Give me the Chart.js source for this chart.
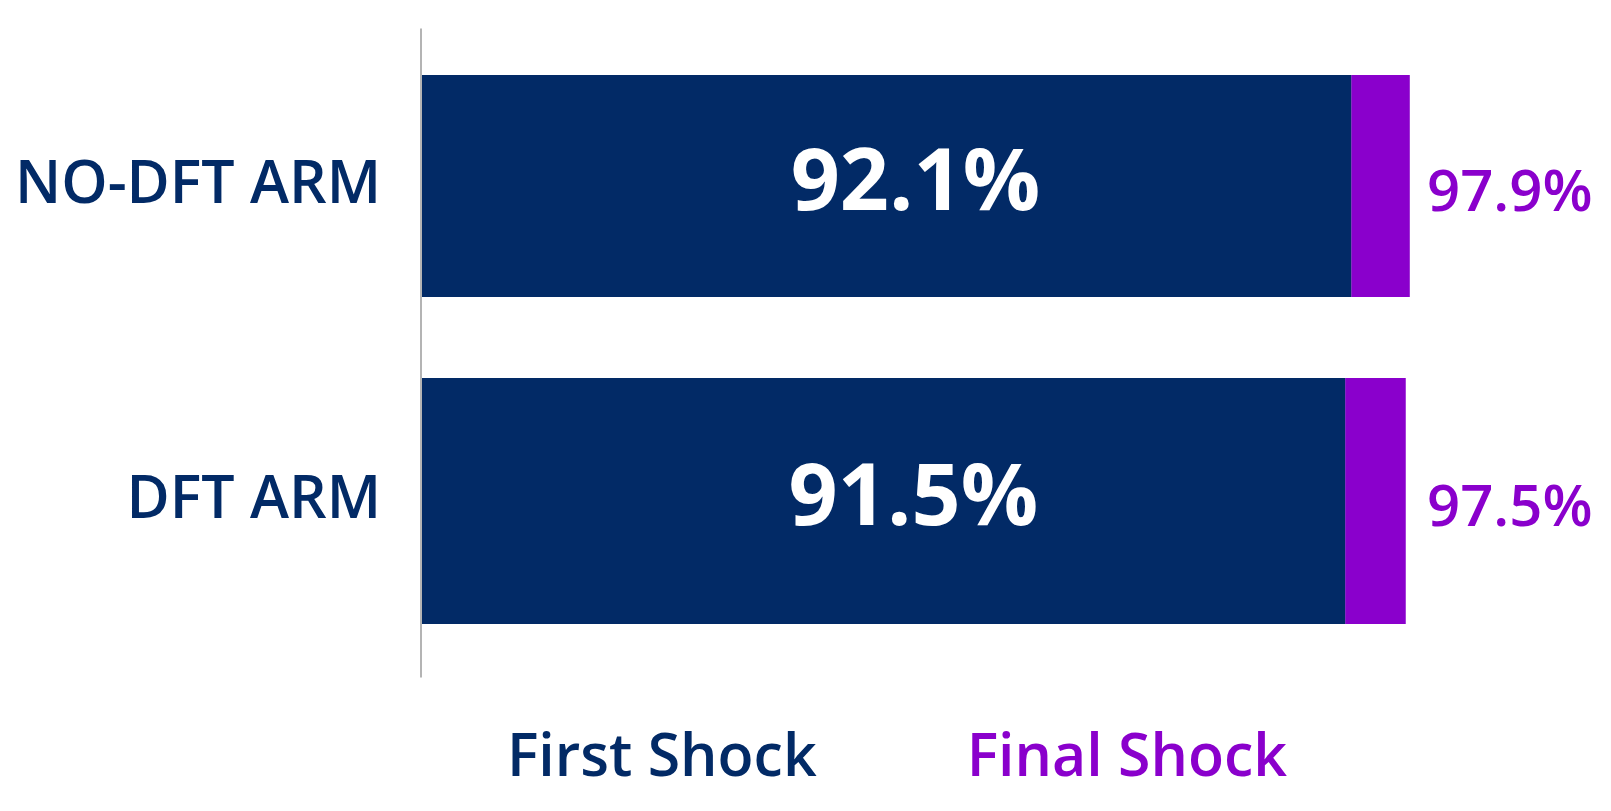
<!DOCTYPE html>
<html>
<head>
<meta charset="utf-8">
<script src="https://cdn.jsdelivr.net/npm/chart.js@4/dist/chart.umd.min.js"></script>
<style>
  html, body { margin: 0; padding: 0; background: #fff; }
  canvas { display: block; }
</style>
</head>
<body>
<canvas id="chart" width="1611" height="811"></canvas>
<script>
const categories = ['NO-DFT ARM', 'DFT ARM'];
const firstShock = [92.1, 91.5];
const finalShock = [97.9, 97.5];
const seriesNames = ['First Shock', 'Final Shock'];

const NAVY = '#022A66';
const PURPLE = '#8A00CC';
const FONT = "'Open Sans', sans-serif";
const rowFill = [0.705, 0.781]; // the two rows are not the same thickness

Chart.defaults.font.family = FONT;

// one pair of stacked datasets per row so each row can keep its own thickness
const datasets = [];
categories.forEach((cat, i) => {
    const onlyRow = v => categories.map((_, j) => j === i ? v : null);
    datasets.push({
        label: seriesNames[0],
        data: onlyRow(firstShock[i]),
        backgroundColor: NAVY,
        barPercentage: rowFill[i],
        categoryPercentage: 1
    });
    datasets.push({
        label: seriesNames[1],
        data: onlyRow(+(finalShock[i] - firstShock[i]).toFixed(1)),
        backgroundColor: PURPLE,
        barPercentage: rowFill[i],
        categoryPercentage: 1
    });
});

// value labels: first shock inside the bar, final shock to the right of it
const barLabels = {
    id: 'barLabels',
    afterDatasetsDraw(chart) {
        const { ctx, chartArea, scales: { x } } = chart;
        ctx.save();
        ctx.textBaseline = 'middle';
        categories.forEach((cat, i) => {
            const bar = chart.getDatasetMeta(i * 2).data[i];
            const mid = (x.getPixelForValue(0) + x.getPixelForValue(finalShock[i])) / 2;
            ctx.fillStyle = '#ffffff';
            ctx.font = `bold 86px ${FONT}`;
            ctx.textAlign = 'center';
            ctx.fillText(firstShock[i].toFixed(1) + '%', mid, bar.y - 1);
            ctx.fillStyle = PURPLE;
            ctx.font = `600 58px ${FONT}`;
            ctx.textAlign = 'left';
            ctx.fillText(finalShock[i].toFixed(1) + '%', chartArea.right - 4, bar.y + 8);
        });
        ctx.restore();
    }
};

// text-only legend under the chart, coloured like the series
const textLegend = {
    id: 'textLegend',
    afterDraw(chart) {
        const { ctx, chartArea } = chart;
        const gap = 150;
        ctx.save();
        ctx.font = `600 59px ${FONT}`;
        ctx.textBaseline = 'alphabetic';
        ctx.textAlign = 'left';
        const widths = seriesNames.map(n => ctx.measureText(n).width);
        const total = widths[0] + gap + widths[1];
        let left = (chartArea.left + chartArea.right) / 2 - 29 - total / 2;
        const baseline = chart.height - 35;
        seriesNames.forEach((name, k) => {
            ctx.fillStyle = k ? PURPLE : NAVY;
            ctx.fillText(name, left, baseline);
            left += widths[k] + gap;
        });
        ctx.restore();
    }
};

new Chart(document.getElementById('chart'), {
    type: 'bar',
    data: { labels: categories, datasets },
    plugins: [barLabels, textLegend],
    options: {
        indexAxis: 'y',
        responsive: false,
        animation: false,
        devicePixelRatio: 1,
        layout: { padding: { top: 28.5, bottom: 133.5, left: 8, right: 180 } },
        scales: {
            x: {
                stacked: true,
                min: 0,
                max: 100,
                ticks: { display: false, stepSize: 10 },
                grid: {
                    color: c => (c.tick && c.tick.value === 0) ? '#b4b4b4' : 'rgba(0,0,0,0)',
                    lineWidth: 2,
                    tickLength: 19
                },
                border: { display: false }
            },
            y: {
                stacked: true,
                ticks: { color: NAVY, font: { size: 59, weight: 600, lineHeight: 0.9 }, padding: 0 },
                grid: { drawOnChartArea: false, drawTicks: true, tickLength: 40, color: 'rgba(0,0,0,0)' },
                border: { display: false },
                afterFit: s => { s.width = 413; }
            }
        },
        plugins: {
            tooltip: { enabled: false },
            legend: { display: false }
        }
    }
});
</script>
</body>
</html>
